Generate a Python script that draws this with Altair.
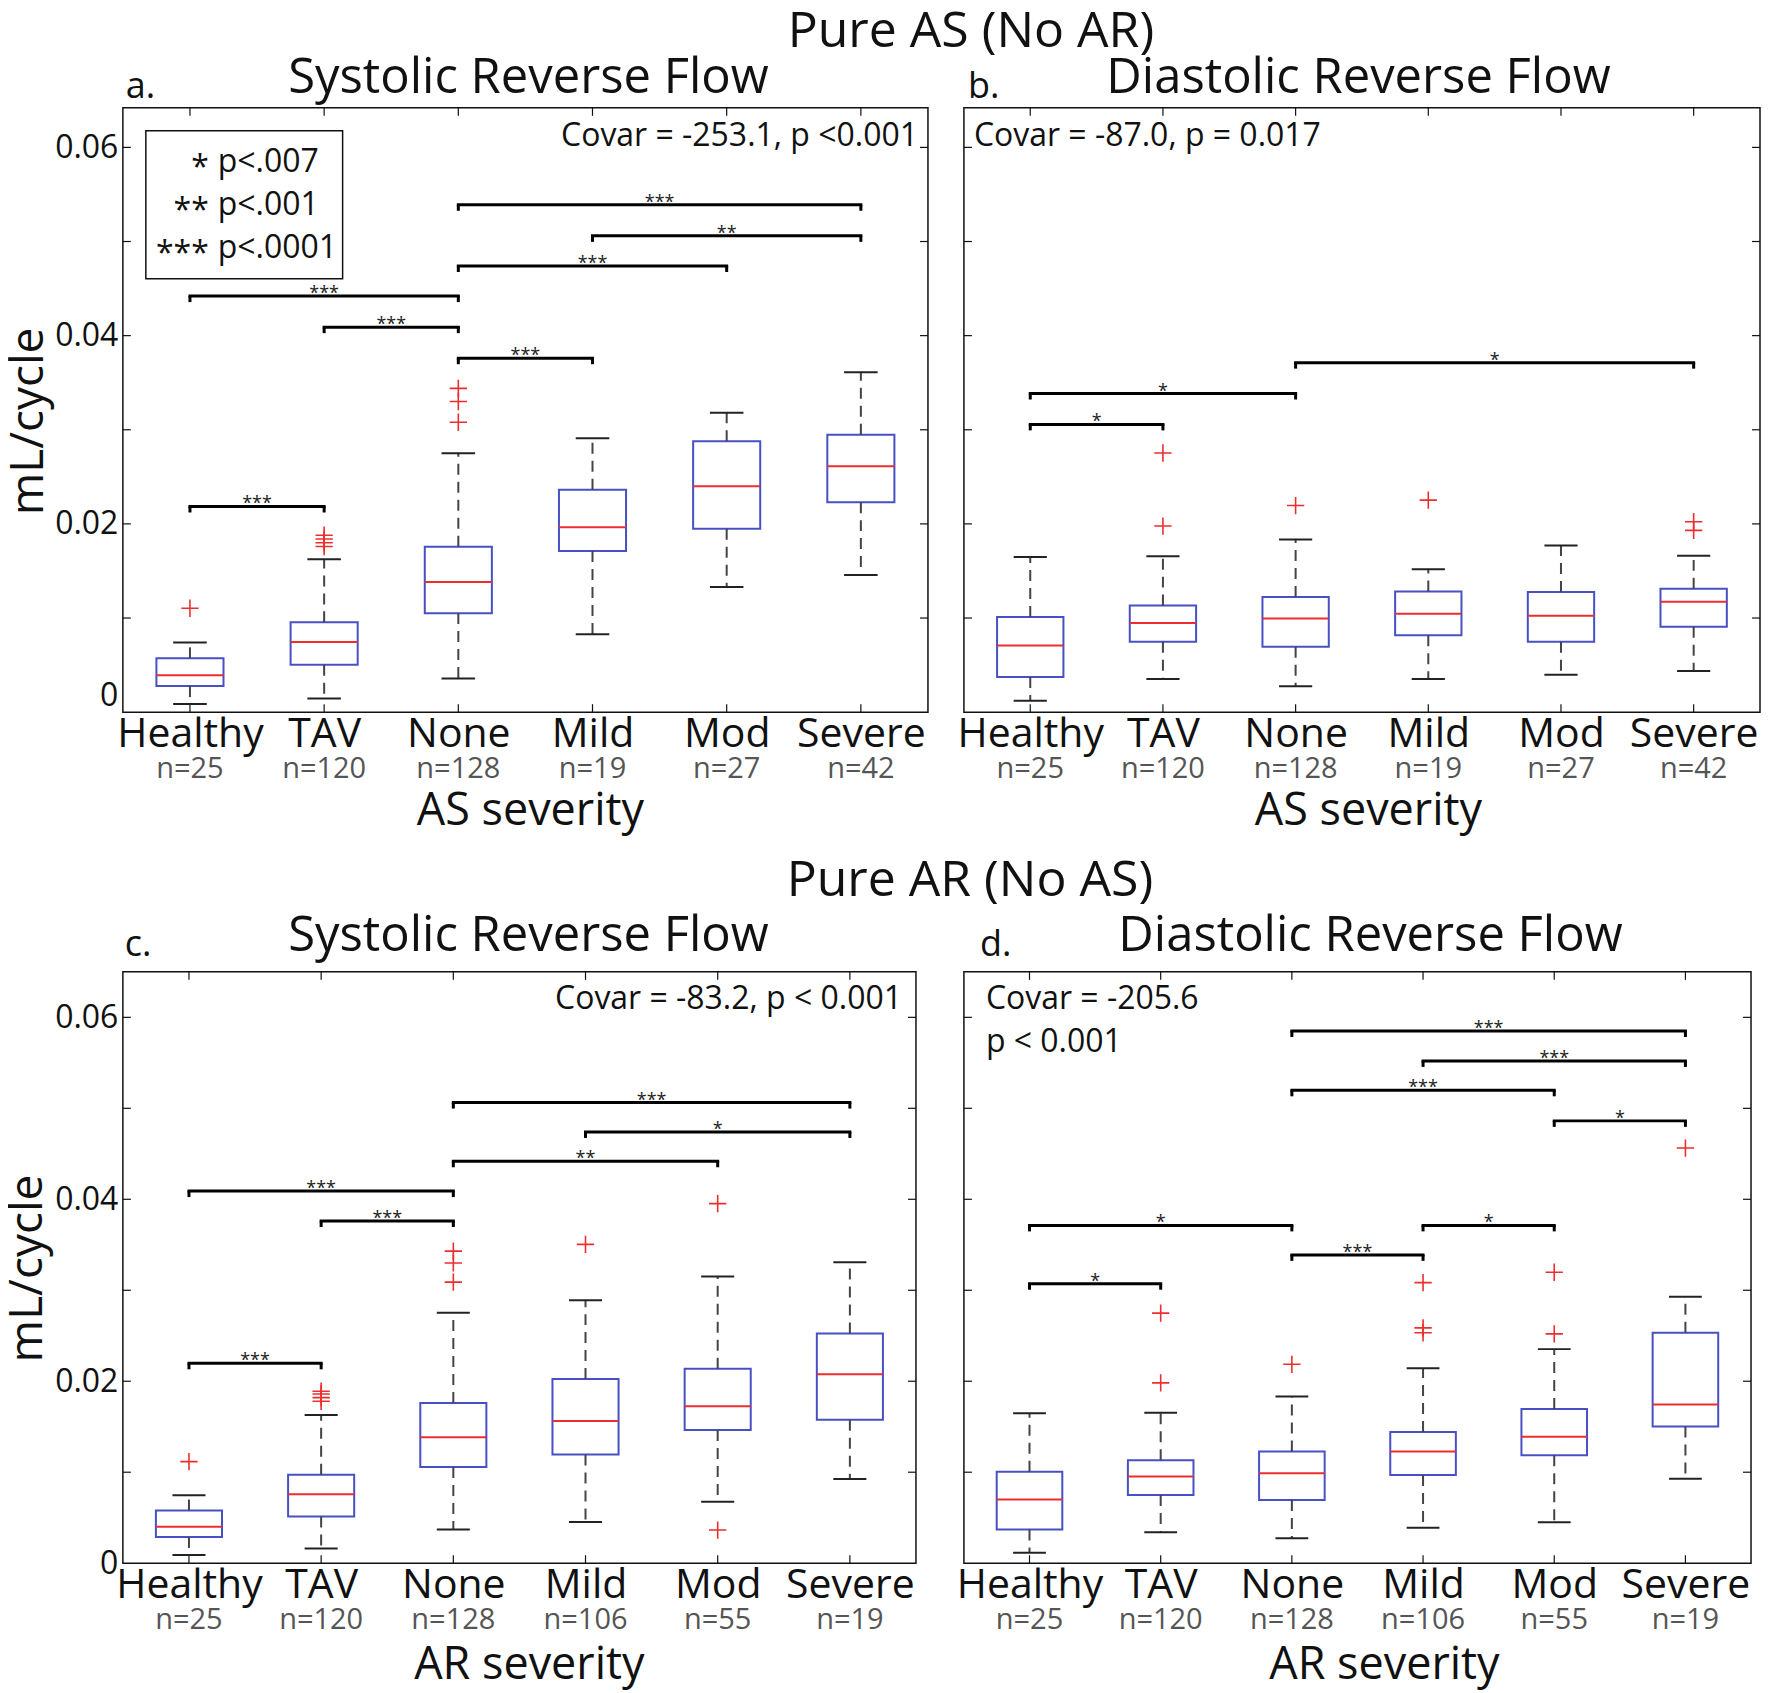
import altair as alt
import pandas as pd

FONT = "Open Sans"

CATS = ["Healthy", "TAV", "None", "Mild", "Mod", "Severe"]
N_AS = ["n=25", "n=120", "n=128", "n=19", "n=27", "n=42"]
N_AR = ["n=25", "n=120", "n=128", "n=106", "n=55", "n=19"]

YTICKS = [0.01, 0.02, 0.03, 0.04, 0.05, 0.06]
YLABELS = [0, 0.02, 0.04, 0.06]

# ---------------- Panel a: Pure AS, systolic reverse flow ----------------
A_LO = [0.00087, 0.00145, 0.00358, 0.00827, 0.0133, 0.01457]
A_Q1 = [0.00277, 0.00503, 0.01052, 0.01711, 0.01948, 0.02231]
A_MED = [0.00393, 0.00746, 0.01382, 0.01965, 0.02399, 0.02613]
A_Q3 = [0.00572, 0.00954, 0.01757, 0.02364, 0.02879, 0.02948]
A_HI = [0.0074, 0.01624, 0.0275, 0.0291, 0.0318, 0.0361]
A_OUT = {"Healthy": [0.01104], "TAV": [0.0176, 0.018, 0.0184, 0.0188],
         "None": [0.0308, 0.033, 0.0344]}
A_BR = [("Healthy", "TAV", 0.02185, "***"), ("None", "Mild", 0.0376, "***"),
        ("TAV", "None", 0.0409, "***"), ("Healthy", "None", 0.0442, "***"),
        ("None", "Mod", 0.0474, "***"), ("Mild", "Severe", 0.0506, "**"),
        ("None", "Severe", 0.0539, "***")]

# ---------------- Panel b: Pure AS, diastolic reverse flow ----------------
B_LO = [0.00121, 0.00351, 0.00276, 0.00351, 0.00397, 0.00437]
B_Q1 = [0.00374, 0.00747, 0.00695, 0.00816, 0.00747, 0.00908]
B_MED = [0.00707, 0.00948, 0.00994, 0.01046, 0.01023, 0.01172]
B_Q3 = [0.01011, 0.01132, 0.01224, 0.01282, 0.01276, 0.0131]
B_HI = [0.01649, 0.01655, 0.01833, 0.01517, 0.0177, 0.01661]
B_OUT = {"TAV": [0.01977, 0.02753], "None": [0.02195], "Mild": [0.02253],
         "Severe": [0.01931, 0.02023]}
B_BR = [("Healthy", "TAV", 0.03057, "*"), ("Healthy", "None", 0.03385, "*"),
        ("None", "Severe", 0.03713, "*")]

# ---------------- Panel c: Pure AR, systolic reverse flow ----------------
C_LO = [0.0009, 0.00161, 0.0037, 0.00454, 0.00675, 0.00925]
C_Q1 = [0.00287, 0.00513, 0.01057, 0.01194, 0.01463, 0.01576]
C_MED = [0.004, 0.00758, 0.01385, 0.01564, 0.01725, 0.02078]
C_Q3 = [0.00579, 0.00973, 0.01761, 0.02024, 0.02137, 0.02525]
C_HI = [0.00746, 0.0163, 0.02752, 0.0289, 0.03152, 0.03307]
C_OUT = {"Healthy": [0.01116], "TAV": [0.0178, 0.0182, 0.0186, 0.0189],
         "None": [0.0309, 0.033, 0.0343], "Mild": [0.03504],
         "Mod": [0.00364, 0.03952]}
C_BR = [("Healthy", "TAV", 0.02197, "***"), ("TAV", "None", 0.03761, "***"),
        ("Healthy", "None", 0.0409, "***"), ("None", "Mod", 0.04418, "**"),
        ("Mild", "Severe", 0.0474, "*"), ("None", "Severe", 0.05063, "***")]

# ---------------- Panel d: Pure AR, diastolic reverse flow ----------------
D_LO = [0.00114, 0.00341, 0.00275, 0.00389, 0.00449, 0.00928]
D_Q1 = [0.00371, 0.00749, 0.00695, 0.0097, 0.01186, 0.01503]
D_MED = [0.007, 0.00952, 0.00988, 0.01228, 0.01389, 0.01743]
D_Q3 = [0.01006, 0.01132, 0.01228, 0.01443, 0.01695, 0.02533]
D_HI = [0.01647, 0.01653, 0.01832, 0.02144, 0.02353, 0.02928]
D_OUT = {"TAV": [0.01982, 0.02749], "None": [0.02186],
         "Mild": [0.02533, 0.02587, 0.03084], "Mod": [0.02521, 0.03198],
         "Severe": [0.04563]}
D_BR = [("Healthy", "TAV", 0.03072, "*"), ("None", "Mild", 0.03389, "***"),
        ("Healthy", "None", 0.03713, "*"), ("Mild", "Mod", 0.03713, "*"),
        ("Mod", "Severe", 0.04862, "*"), ("None", "Mod", 0.05198, "***"),
        ("Mild", "Severe", 0.05521, "***"), ("None", "Severe", 0.0585, "***")]

SUPER_AS = "Pure AS (No AR)"
SUPER_AR = "Pure AR (No AS)"
T_SYS = "Systolic Reverse Flow"
T_DIA = "Diastolic Reverse Flow"
YTITLE = "mL/cycle"
XT_AS = "AS severity"
XT_AR = "AR severity"
COV_A = "Covar = -253.1, p <0.001"
COV_B = "Covar = -87.0, p = 0.017"
COV_C = "Covar = -83.2, p < 0.001"
COV_D1 = "Covar = -205.6"
COV_D2 = "p < 0.001"
LEG_STARS = ["*", "**", "***"]
LEG_P = ["p<.007", "p<.001", "p<.0001"]

BLUE = "#4850c4"
RED = "#ee2e2e"
PLUS = "M-1,0L1,0M0,-1L0,1"


def txt(s, x, y, size, align="center", color="#111", angle=0, baseline="alphabetic"):
    return alt.Chart(pd.DataFrame({"t": [s]})).mark_text(
        font=FONT, fontSize=size, align=align, baseline=baseline, color=color, angle=angle
    ).encode(x=alt.value(x), y=alt.value(y), text="t:N")


def make_panel(stats, outliers, brackets, nlabels, W, H, ymax, show_y, flush, texts):
    lo, q1, med, q3, hi = stats
    idx = list(range(len(CATS)))
    box = pd.DataFrame({"x": idx, "lo": lo, "q1": q1, "med": med, "q3": q3,
                        "hi": hi, "n": nlabels})
    xs = alt.Scale(domain=[-0.5, len(CATS) - 0.5], nice=False, zero=False)
    ys = alt.Scale(domain=[0, ymax], nice=False, zero=False)
    label_expr = "[" + ",".join("'%s'" % c for c in CATS) + "][datum.value]"
    xaxis = alt.Axis(values=idx, labelExpr=label_expr, ticks=False, domain=False,
                     grid=False, title=None, labelFont=FONT, labelFontSize=41,
                     labelColor="#111", labelPadding=2, labelFlush=False,
                     labelOverlap=False, labelAngle=0)
    if show_y:
        yaxis = alt.Axis(values=YLABELS,
                         labelExpr="datum.value == 0 ? '0' : format(datum.value, '.2f')",
                         ticks=False, domain=False, grid=False, title=None,
                         labelFont=FONT, labelFontSize=32, labelColor="#111",
                         labelPadding=5, labelFlush=flush, labelOverlap=False)
    else:
        yaxis = None

    def X(f):
        return alt.X(f, type="quantitative", scale=xs, axis=xaxis)

    def Y(f):
        return alt.Y(f, type="quantitative", scale=ys, axis=yaxis)

    base = alt.Chart(box)
    half = base.transform_calculate(xa="datum.x - 0.25", xb="datum.x + 0.25")

    yt = pd.DataFrame({"v": YTICKS})
    tick_l = alt.Chart(yt).mark_rule(color="#111", strokeWidth=1.2).encode(
        y=Y("v"), x=alt.value(0), x2=alt.value(8))
    tick_r = alt.Chart(yt).mark_rule(color="#111", strokeWidth=1.2).encode(
        y=Y("v"), x=alt.value(W - 8), x2=alt.value(W))
    tick_b = base.mark_rule(color="#111", strokeWidth=1.2).encode(
        x=X("x"), y=alt.value(H - 8), y2=alt.value(H))
    tick_t = base.mark_rule(color="#111", strokeWidth=1.2).encode(
        x=X("x"), y=alt.value(0), y2=alt.value(8))

    wh_hi = base.mark_rule(color="#444", strokeWidth=2, strokeDash=[11, 7]).encode(
        x=X("x"), y=Y("q3"), y2="hi:Q")
    wh_lo = base.mark_rule(color="#444", strokeWidth=2, strokeDash=[11, 7]).encode(
        x=X("x"), y=Y("q1"), y2="lo:Q")
    caps = base.transform_fold(["lo", "hi"], as_=["k", "v"]).transform_calculate(
        xa="datum.x - 0.125", xb="datum.x + 0.125"
    ).mark_rule(color="#222", strokeWidth=2).encode(x=X("xa"), x2="xb:Q", y=Y("v"))
    boxes = half.mark_rect(fill="white", stroke=BLUE, strokeWidth=2).encode(
        x=X("xa"), x2="xb:Q", y=Y("q1"), y2="q3:Q")
    meds = half.mark_rule(color=RED, strokeWidth=2).encode(
        x=X("xa"), x2="xb:Q", y=Y("med"))
    nlab = base.mark_text(font=FONT, fontSize=29, color="#555",
                          baseline="alphabetic").encode(
        x=X("x"), y=alt.value(H + 66), text="n:N")

    out = pd.DataFrame([{"x": CATS.index(c), "y": v}
                        for c, vals in outliers.items() for v in vals])
    outs = alt.Chart(out).mark_point(shape=PLUS, size=300, color=RED,
                                     strokeWidth=1.6, filled=False, opacity=1).encode(
        x=X("x"), y=Y("y"))

    br = pd.DataFrame({"x1": [CATS.index(b[0]) for b in brackets],
                       "x2": [CATS.index(b[1]) for b in brackets],
                       "y": [b[2] for b in brackets],
                       "s": [b[3] for b in brackets]})
    br_line = alt.Chart(br).mark_rule(color="black", strokeWidth=3,
                                      strokeCap="square").encode(
        x=X("x1"), x2="x2:Q", y=Y("y"))
    br_end = alt.Chart(br).transform_fold(["x1", "x2"], as_=["k", "xe"]).mark_rule(
        color="black", strokeWidth=3, y2Offset=6).encode(
        x=X("xe"), y=Y("y"), y2="y:Q")
    br_txt = alt.Chart(br).transform_calculate(xm="(datum.x1 + datum.x2) / 2").mark_text(
        font=FONT, fontSize=18, color="#222", dy=3, baseline="alphabetic").encode(
        x=X("xm"), y=Y("y"), text="s:N")

    layers = [boxes, tick_l, tick_r, tick_b, tick_t, wh_hi, wh_lo, caps, meds, outs,
              br_line, br_end, br_txt, nlab] + texts
    return alt.layer(*layers).properties(width=W, height=H)


def legend():
    frame = alt.Chart(pd.DataFrame({"t": [""]})).mark_rect(
        fill="white", stroke="#111", strokeWidth=1.5).encode(
        x=alt.value(23), x2=alt.value(220), y=alt.value(23), y2=alt.value(171))
    items = [frame]
    for i, (s, p) in enumerate(zip(LEG_STARS, LEG_P)):
        yb = 64 + 43 * i
        items.append(txt(s, 86, yb + 6, 32, align="right"))
        items.append(txt(p, 95, yb, 32, align="left"))
    return items


WA, HA = 806, 605
WB = 797
WC, HC = 794, 592
WD = 788

pa = make_panel((A_LO, A_Q1, A_MED, A_Q3, A_HI), A_OUT, A_BR, N_AS, WA, HA, 0.0642, True, True,
                legend() + [
                    txt(COV_A, 796, 38, 32, align="right"),
                    txt("a.", 3, -10, 36, align="left"),
                    txt(T_SYS, 406, -15, 49),
                    txt(SUPER_AS, 849, -61, 50),
                    txt(YTITLE, -94, 314, 46, angle=270, baseline="middle"),
                    txt(XT_AS, 408, HA + 113, 45),
                ])
pb = make_panel((B_LO, B_Q1, B_MED, B_Q3, B_HI), B_OUT, B_BR, N_AS, WB, HA, 0.0642, False, True,
                [
                    txt(COV_B, 10, 38, 32, align="left"),
                    txt("b.", 4, -10, 36, align="left"),
                    txt(T_DIA, 395, -15, 49),
                    txt(XT_AS, 405, HA + 113, 45),
                ])
pc = make_panel((C_LO, C_Q1, C_MED, C_Q3, C_HI), C_OUT, C_BR, N_AR, WC, HC, 0.0650, True, False,
                [
                    txt(COV_C, WC - 14, 37, 32, align="right"),
                    txt("c.", 2, -16, 36, align="left"),
                    txt(T_SYS, 406, -21, 49),
                    txt(SUPER_AR, 848, -76, 50),
                    txt(YTITLE, -95, 297, 46, angle=270, baseline="middle"),
                    txt(XT_AR, 407, HC + 116, 45),
                ])
pd_ = make_panel((D_LO, D_Q1, D_MED, D_Q3, D_HI), D_OUT, D_BR, N_AR, WD, HC, 0.0650, False, False,
                 [
                     txt(COV_D1, 22, 37, 32, align="left"),
                     txt(COV_D2, 22, 80, 32, align="left"),
                     txt("d.", 16, -16, 36, align="left"),
                     txt(T_DIA, 407, -21, 49),
                     txt(XT_AR, 421, HC + 116, 45),
                 ])

chart = alt.concat(
    pa, pb, pc, pd_, columns=2, spacing={"row": 260, "column": 36},
    bounds="flush", align="none"
).configure_view(
    stroke="#111", strokeWidth=1.5
).properties(padding={"left": -4, "top": -3, "right": 0, "bottom": 0}, background="white")

chart.save("out.html", embed_options={"renderer": "svg", "actions": False})
